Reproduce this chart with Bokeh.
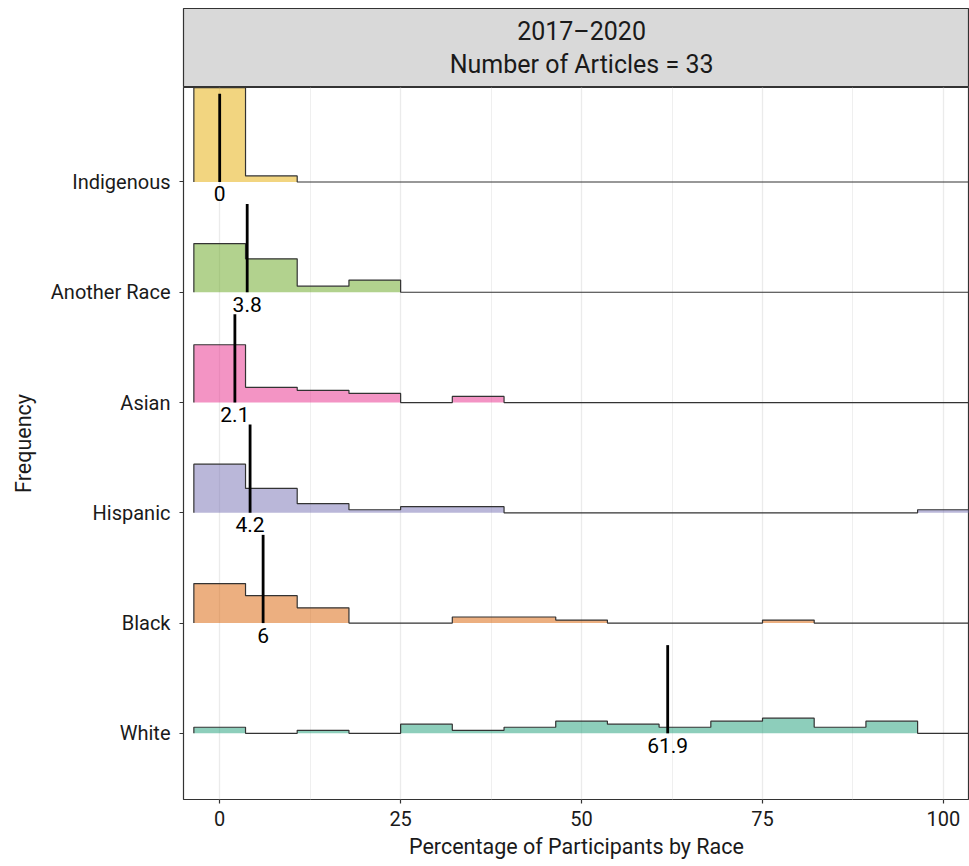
import numpy as np
from bokeh.plotting import figure
from bokeh.models import Range1d, FixedTicker
from bokeh.layouts import column
from bokeh.embed import file_html
from bokeh.resources import INLINE
from bokeh.core.properties import value

# ---------------- data ----------------
races = ["White", "Black", "Hispanic", "Asian", "Another Race", "Indigenous"]
race_colors = ["#1B9E77", "#D95F02", "#7570B3", "#E7298A", "#66A61E", "#E6AB02"]
bin_edges = [-3.57, 3.57, 10.71, 17.86, 25.0, 32.14, 39.29, 46.43, 53.57,
             60.71, 67.86, 75.0, 82.14, 89.29, 96.43, 103.57]
counts_white = [2, 0, 1, 0, 3, 1, 2, 4, 3, 2, 4, 5, 2, 4, 0]
counts_black = [13, 9, 5, 0, 0, 2, 2, 1, 0, 0, 0, 1, 0, 0, 0]
counts_hispanic = [16, 8, 3, 1, 2, 2, 0, 0, 0, 0, 0, 0, 0, 0, 1]
counts_asian = [19, 5, 4, 3, 0, 2, 0, 0, 0, 0, 0, 0, 0, 0, 0]
counts_another = [16, 11, 2, 4, 0, 0, 0, 0, 0, 0, 0, 0, 0, 0, 0]
counts_indigenous = [31, 2, 0, 0, 0, 0, 0, 0, 0, 0, 0, 0, 0, 0, 0]
medians = [61.9, 6, 4.2, 2.1, 3.8, 0]
median_labels = ["61.9", "6", "4.2", "2.1", "3.8", "0"]
x_ticks = [0, 25, 50, 75, 100]
x_minor_ticks = [12.5, 37.5, 62.5, 87.5]
strip_lines = ["2017\u20132020", "Number of Articles = 33"]
x_title = "Percentage of Participants by Race"
y_title = "Frequency"

all_counts = [counts_white, counts_black, counts_hispanic,
              counts_asian, counts_another, counts_indigenous]

# ---------------- style ----------------
FONT = "Roboto"
TXT = "#1a1a1a"
RIDGE_SCALE = 0.855
MEDIAN_LINE_H = 0.8
W = 969

# ---------------- strip (facet header) ----------------
s = figure(width=W, height=87, x_range=Range1d(-5, 103.6), y_range=Range1d(0, 79),
           min_border_left=183, min_border_right=0, min_border_top=8, min_border_bottom=0,
           toolbar_location=None, output_backend="svg",
           x_axis_location=None, y_axis_location=None)
s.background_fill_color = "#d9d9d9"
s.outline_line_color = "#333333"
s.outline_line_width = 1.2
s.grid.visible = False
s.text(x=[50, 50], y=[56, 23], text=strip_lines, text_align="center",
       text_baseline="middle", text_font=value(FONT), text_font_size="25px",
       text_color=TXT)

# ---------------- main panel ----------------
p = figure(width=W, height=779, x_range=Range1d(-5, 103.6), y_range=Range1d(0.4, 6.857),
           min_border_left=183, min_border_right=0, min_border_top=0, min_border_bottom=67,
           toolbar_location=None, output_backend="svg")
p.background_fill_color = "white"
p.outline_line_color = "#333333"
p.outline_line_width = 1.2

p.xgrid.ticker = FixedTicker(ticks=x_ticks, minor_ticks=x_minor_ticks)
p.xgrid.grid_line_color = "#ebebeb"
p.xgrid.grid_line_width = 1.3
p.xgrid.minor_grid_line_color = "#ebebeb"
p.xgrid.minor_grid_line_width = 0.8
p.ygrid.grid_line_color = None

max_count = max(max(c) for c in all_counts)
edges = np.array(bin_edges)
for i, (race, col, cnt) in enumerate(zip(races, race_colors, all_counts)):
    base = i + 1
    h = np.array(cnt, dtype=float) / max_count * RIDGE_SCALE
    xs = [edges[0]]
    ys = [base]
    for k in range(len(h)):
        xs += [edges[k], edges[k + 1]]
        ys += [base + h[k], base + h[k]]
    xs.append(edges[-1])
    ys.append(base)
    p.patch(x=xs, y=ys, fill_color=col, fill_alpha=0.5, line_color=None)
    p.line(x=xs, y=ys, line_color="#333333", line_width=1.2)

bases = np.arange(1, len(races) + 1)
p.segment(x0=medians, y0=bases, x1=medians, y1=bases + MEDIAN_LINE_H,
          line_color="black", line_width=2.8)
p.text(x=medians, y=bases, text=median_labels, text_align="center",
       text_baseline="middle", y_offset=12, text_font=value(FONT),
       text_font_size="21px", text_color="black")

# axes
p.xaxis.ticker = FixedTicker(ticks=x_ticks)
p.yaxis.ticker = FixedTicker(ticks=list(bases))
p.yaxis.major_label_overrides = {int(b): r for b, r in zip(bases, races)}
for ax in (p.xaxis[0], p.yaxis[0]):
    ax.axis_line_color = None
    ax.major_tick_line_color = "#333333"
    ax.major_tick_line_width = 1.2
    ax.major_tick_out = 4
    ax.major_tick_in = 0
    ax.minor_tick_line_color = None
    ax.major_label_text_font = FONT
    ax.major_label_text_font_size = "20px"
    ax.major_label_text_color = TXT
    ax.axis_label_text_font = FONT
    ax.axis_label_text_font_size = "21.5px"
    ax.axis_label_text_font_style = "normal"
    ax.axis_label_text_color = TXT
p.xaxis.axis_label = x_title
p.yaxis.axis_label = y_title
p.xaxis.major_label_standoff = 7
p.xaxis.axis_label_standoff = 5
p.yaxis.major_label_standoff = 9
p.yaxis.axis_label_standoff = 12

layout = column(s, p)
open("out.html", "w").write(file_html(layout, INLINE, "Ridgeline"))
